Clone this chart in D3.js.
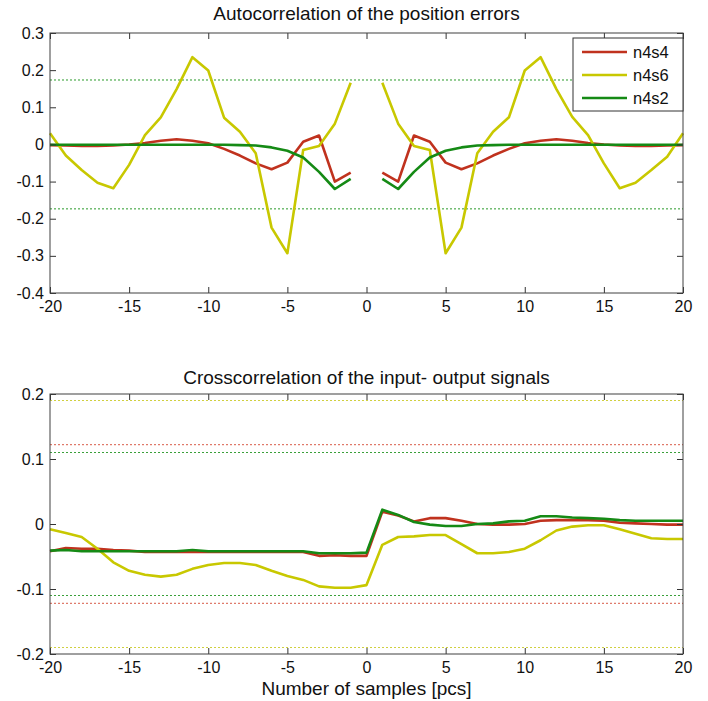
<!DOCTYPE html>
<html>
<head>
<meta charset="utf-8">
<script src="https://cdn.jsdelivr.net/npm/d3@7"></script>
<style>
body { margin: 0; background: #fff; }
text { font-family: Arial, "Liberation Sans", sans-serif; fill: #111; }
</style>
</head>
<body>
<svg id="chart" width="708" height="701"></svg>
<script>
// DATA
const lags = d3.range(-20, 21);
const seriesNames = ['n4s4', 'n4s6', 'n4s2'];
const seriesColors = ['#c0321e', '#c8c800', '#158a15'];

// autocorrelation, lag 0 left out (null)
const autoN4s4 = [-0.002,-0.003,-0.004,-0.004,-0.003,0.000,0.004,0.010,0.014,0.010,0.003,-0.012,-0.030,-0.051,-0.067,-0.049,0.007,0.024,-0.100,-0.076,
    null,
    -0.076,-0.100,0.024,0.007,-0.049,-0.067,-0.051,-0.030,-0.012,0.003,0.010,0.014,0.010,0.004,0.000,-0.003,-0.004,-0.004,-0.003,-0.002];
const autoN4s6 = [0.030,-0.030,-0.069,-0.103,-0.118,-0.055,0.025,0.073,0.149,0.235,0.199,0.072,0.034,-0.024,-0.224,-0.293,-0.015,-0.004,0.056,0.166,
    null,
    0.166,0.056,-0.004,-0.015,-0.293,-0.224,-0.024,0.034,0.073,0.199,0.235,0.149,0.074,0.025,-0.051,-0.118,-0.103,-0.069,-0.033,0.030];
const autoN4s2 = [-0.001,-0.001,-0.001,-0.001,-0.001,-0.001,-0.001,-0.001,-0.001,-0.001,-0.001,-0.001,-0.002,-0.003,-0.008,-0.017,-0.035,-0.074,-0.120,-0.093,
    null,
    -0.093,-0.120,-0.074,-0.035,-0.017,-0.008,-0.003,-0.002,-0.001,-0.001,-0.001,-0.001,-0.001,-0.001,-0.001,-0.001,-0.001,-0.001,-0.001,-0.001];
const autoConf = [0.1735];

// crosscorrelation
const crossN4s4 = [-0.042,-0.037,-0.038,-0.038,-0.040,-0.041,-0.043,-0.043,-0.043,-0.043,-0.043,-0.043,-0.043,-0.043,-0.043,-0.043,-0.043,-0.049,-0.048,-0.049,
    -0.049,
    0.019,0.013,0.004,0.009,0.009,0.005,0.000,-0.001,-0.001,0.000,0.005,0.006,0.006,0.006,0.005,0.002,0.001,0.000,-0.001,-0.001];
const crossN4s6 = [-0.008,-0.014,-0.020,-0.038,-0.059,-0.072,-0.078,-0.081,-0.078,-0.069,-0.063,-0.060,-0.060,-0.063,-0.072,-0.080,-0.086,-0.096,-0.098,-0.098,
    -0.094,
    -0.032,-0.020,-0.019,-0.017,-0.017,-0.031,-0.045,-0.045,-0.043,-0.038,-0.025,-0.010,-0.004,-0.002,-0.002,-0.008,-0.015,-0.022,-0.023,-0.023];
const crossN4s2 = [-0.041,-0.040,-0.042,-0.042,-0.042,-0.042,-0.042,-0.042,-0.042,-0.040,-0.042,-0.042,-0.042,-0.042,-0.042,-0.042,-0.042,-0.045,-0.045,-0.045,
    -0.044,
    0.022,0.014,0.003,-0.001,-0.003,-0.003,0.000,0.001,0.004,0.005,0.012,0.012,0.010,0.009,0.008,0.006,0.005,0.005,0.005,0.005];
// confidence bounds n4s4, n4s6, n4s2
const crossConf = [0.122, 0.190, 0.110];

const xTicks = [-20, -15, -10, -5, 0, 5, 10, 15, 20];
const autoYTicks = [-0.4, -0.3, -0.2, -0.1, 0, 0.1, 0.2, 0.3];
const crossYTicks = [-0.2, -0.1, 0, 0.1, 0.2];

const svg = d3.select('#chart');
const left = 50, right = 683;

function drawPanel(opts){
    const x = d3.scaleLinear().domain([-20, 20]).range([left, right]);
    const y = d3.scaleLinear().domain(opts.yDomain).range([opts.bottom, opts.top]);
    const g = svg.append('g');

    // BOUND LINES (dashed)
    opts.bounds.forEach(function(b){
        [b.v, -b.v].forEach(function(v){
            g.append('line')
                .attr('x1', left).attr('x2', right)
                .attr('y1', y(v)).attr('y2', y(v))
                .attr('stroke', b.color).attr('stroke-width', 1)
                .attr('stroke-dasharray', '2,2');
        });
    });

    // SERIES
    const line = d3.line()
        .defined(function(d){ return d.v !== null; })
        .x(function(d){ return x(d.lag); })
        .y(function(d){ return y(d.v); });
    opts.series.forEach(function(s, i){
        const pts = lags.map(function(l, j){ return {lag: l, v: s[j]}; });
        g.append('path')
            .datum(pts)
            .attr('d', line)
            .attr('fill', 'none')
            .attr('stroke', seriesColors[i])
            .attr('stroke-width', 2.6)
            .attr('stroke-linejoin', 'round');
    });

    // AXES (ticks inside on all four sides), plain hyphen for minus
    const axisStyle = function(sel){
        sel.select('.domain').remove();
        sel.selectAll('line').attr('stroke', '#333');
        sel.selectAll('text').attr('font-size', 16).attr('fill', '#111');
    };
    g.append('g').attr('transform', 'translate(0,' + opts.bottom + ')')
        .call(d3.axisBottom(x).tickValues(xTicks).tickSizeInner(-6).tickPadding(8).tickFormat(function(d){ return String(d); }))
        .call(axisStyle);
    g.append('g').attr('transform', 'translate(0,' + opts.top + ')')
        .call(d3.axisTop(x).tickValues(xTicks).tickSizeInner(-6).tickFormat(''))
        .call(axisStyle);
    g.append('g').attr('transform', 'translate(' + left + ',0)')
        .call(d3.axisLeft(y).tickValues(opts.yTicks).tickSizeInner(-6).tickPadding(6).tickFormat(function(d){ return d === 0 ? '0' : d.toFixed(1); }))
        .call(axisStyle);
    g.append('g').attr('transform', 'translate(' + right + ',0)')
        .call(d3.axisRight(y).tickValues(opts.yTicks).tickSizeInner(-6).tickFormat(''))
        .call(axisStyle);

    g.append('rect')
        .attr('x', left).attr('y', opts.top)
        .attr('width', right - left).attr('height', opts.bottom - opts.top)
        .attr('fill', 'none').attr('stroke', '#404040').attr('stroke-width', 1);

    g.append('text')
        .attr('x', (left + right) / 2).attr('y', opts.titleY)
        .attr('text-anchor', 'middle').attr('font-size', 19)
        .text(opts.title);
    return g;
}

drawPanel({
    top: 33, bottom: 293, titleY: 20,
    yDomain: [-0.4, 0.3], yTicks: autoYTicks,
    series: [autoN4s4, autoN4s6, autoN4s2],
    bounds: [{v: autoConf[0], color: '#2a9a2a'}],
    title: 'Autocorrelation of the position errors'
});

drawPanel({
    top: 394, bottom: 654, titleY: 384,
    yDomain: [-0.2, 0.2], yTicks: crossYTicks,
    series: [crossN4s4, crossN4s6, crossN4s2],
    bounds: [
        {v: crossConf[1], color: '#d0d040'},
        {v: crossConf[0], color: '#d85a48'},
        {v: crossConf[2], color: '#3aa03a'}
    ],
    title: 'Crosscorrelation of the input- output signals'
});

svg.append('text')
    .attr('x', (left + right) / 2).attr('y', 695)
    .attr('text-anchor', 'middle').attr('font-size', 19)
    .text('Number of samples [pcs]');

// LEGEND
const legend = svg.append('g').attr('transform', 'translate(573,38)');
legend.append('rect')
    .attr('width', 110).attr('height', 73)
    .attr('fill', '#fff').attr('stroke', '#333').attr('stroke-width', 1);
seriesNames.forEach(function(name, i){
    const yy = 14 + i * 23;
    legend.append('line')
        .attr('x1', 9).attr('x2', 54).attr('y1', yy).attr('y2', yy)
        .attr('stroke', seriesColors[i]).attr('stroke-width', 2.6);
    legend.append('text')
        .attr('x', 60).attr('y', yy + 6)
        .attr('font-size', 16.5)
        .text(name);
});
</script>
</body>
</html>
